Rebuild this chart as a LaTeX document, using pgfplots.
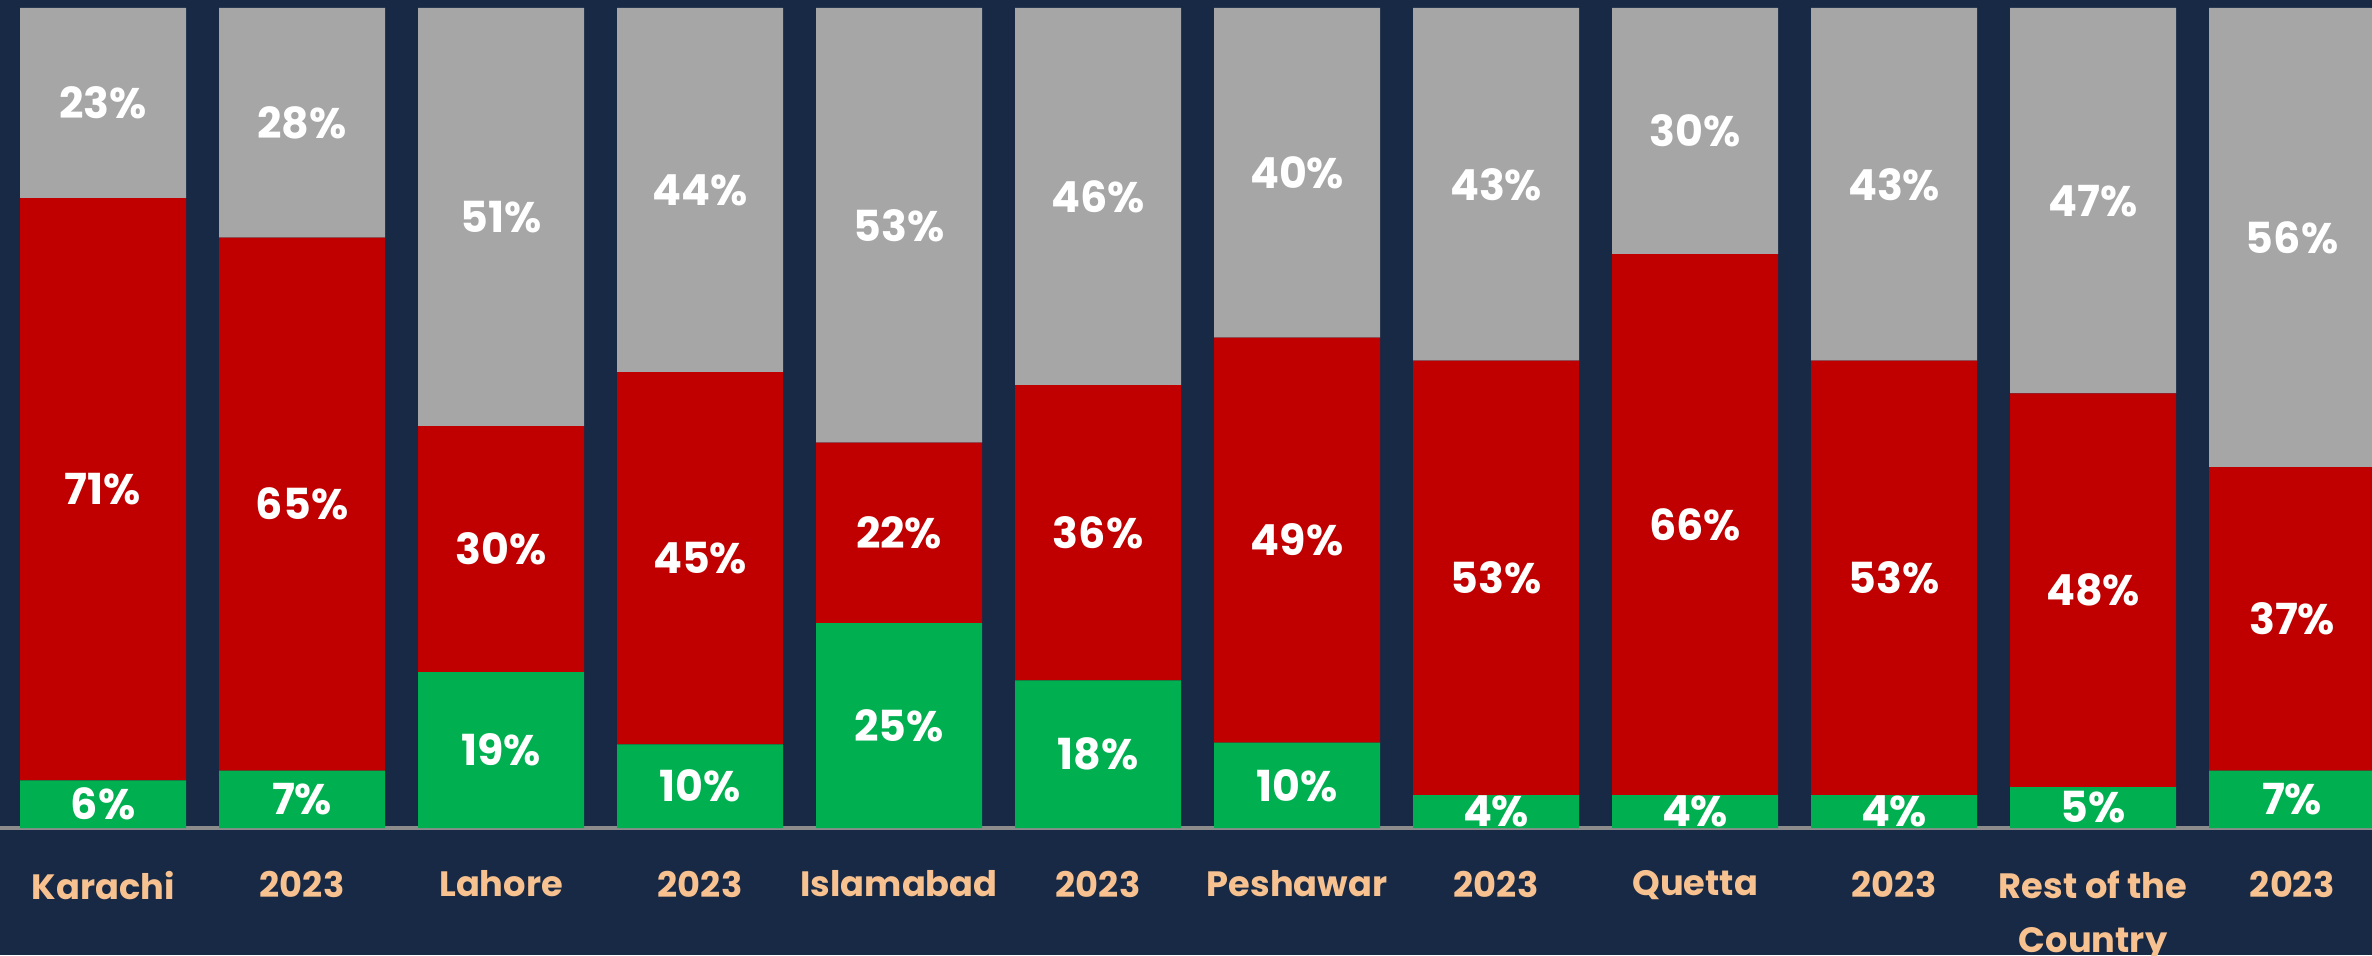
\documentclass[border=0pt]{standalone}
\usepackage{fontspec}
\setmainfont{Poppins}
\usepackage{pgfplots}
\usepackage{pgfplotstable}
\pgfplotsset{compat=1.18}

\definecolor{navy}{HTML}{182945}
\definecolor{barred}{HTML}{C00000}
\definecolor{bargreen}{HTML}{00B050}
\definecolor{bargrey}{HTML}{A6A6A6}
\definecolor{peach}{HTML}{F8C290}

% shares per city: green / red / grey segments
\pgfplotstableread{
idx green red grey
0  5.8  71.0 23.2
1  7.0  65.0 28.0
2  19.0 30.0 51.0
3  10.2 45.4 44.4
4  25.0 22.0 53.0
5  18.0 36.0 46.0
6  10.4 49.4 40.2
7  4.0  53.0 43.0
8  4.0  66.0 30.0
9  4.0  53.0 43.0
10 5.0  48.0 47.0
11 7.0  37.0 56.0
}\shares

\begin{document}
\begin{tikzpicture}
\fill[navy] (0,-31.75pt) rectangle (593pt,207pt);
\begin{axis}[
  at={(0,0)}, anchor=south west,
  x=49.75pt, y=2.05pt,
  xmin=-0.518, xmax=11.402, ymin=0, ymax=100.976,
  enlargelimits=false,
  ybar stacked, bar width=41.5pt,
  axis x line=bottom, axis y line=none,
  axis line style={draw=black!45, line width=0.8pt, -},
  xtick=data, major tick length=0pt,
  xticklabels={Karachi,2023,Lahore,2023,Islamabad,2023,Peshawar,2023,Quetta,2023,{Rest of the\\Country},2023},
  xticklabel style={text=peach, font=\fontsize{8.8}{13.5}\selectfont\bfseries,
    align=center, anchor=north, inner sep=0pt, yshift=-10.5pt},
  /pgf/number format/assume math mode=true,
  point meta=explicit,
  nodes near coords={\pgfmathprintnumber[fixed,precision=0]{\pgfplotspointmeta}\%},
  every node near coord/.append style={anchor=center, text=white,
    font=\fontsize{10.7}{12}\selectfont\bfseries},
]
\addplot[fill=bargreen, draw=none] table[x=idx, y=green, meta=green] {\shares};
\addplot[fill=barred, draw=none] table[x=idx, y=red, meta=red] {\shares};
\addplot[fill=bargrey, draw=none] table[x=idx, y=grey, meta=grey] {\shares};
\end{axis}
\pgfresetboundingbox
\path[use as bounding box] (0,-31.75pt) rectangle (593pt,207pt);
\end{tikzpicture}
\end{document}
